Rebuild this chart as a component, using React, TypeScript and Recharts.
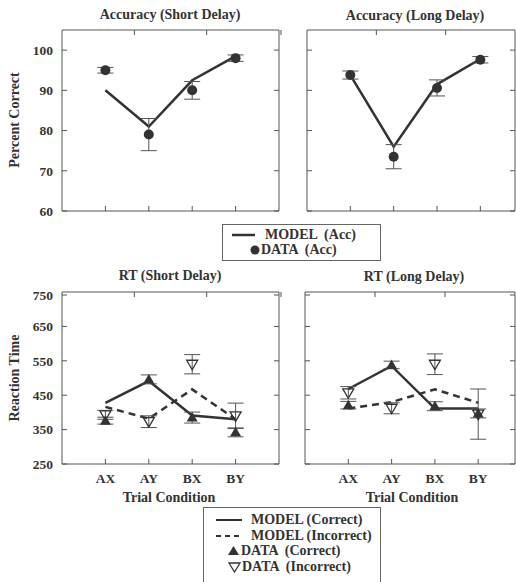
import React from "react";
import { ComposedChart, Line, Scatter, ErrorBar, XAxis, YAxis } from "recharts";

const categories = ["AX", "AY", "BX", "BY"];

// accuracy, percent correct
const accShortModel = [90, 81, 92.5, 98.5];
const accShortData = [95, 79, 90, 98];
const accShortErr = [0.7, 4, 2.2, 0.8];
const accLongModel = [93.8, 76, 91.5, 97.8];
const accLongData = [93.8, 73.5, 90.6, 97.6];
const accLongErr = [1, 3, 2, 0.8];

// reaction time
const rtShortModelCorrect = [428, 491, 391, 380];
const rtShortModelIncorrect = [416, 382, 467, 380];
const rtShortDataCorrect = [376, 496, 385, 342];
const rtShortErrCorrect = [10, 13, 16, 13];
const rtShortDataIncorrect = [393, 373, 540, 390];
const rtShortErrIncorrect = [13, 17, 28, 37];
const rtLongModelCorrect = [468, 535, 411, 411];
const rtLongModelIncorrect = [411, 430, 467, 428];
const rtLongDataCorrect = [421, 538, 418, 397];
const rtLongErrCorrect = [11, 11, 13, 13];
const rtLongDataIncorrect = [457, 412, 540, 395];
const rtLongErrIncorrect = [18, 16, 30, 73];

const accTicks = [60, 65, 70, 75, 80, 85, 90, 95, 100];
const rtTicks = [250, 300, 350, 400, 450, 500, 550, 600, 650, 700, 750];

const FONT = '"Liberation Serif", "Times New Roman", serif';
const INK = "#333";
const AXIS = "#555";

const accRows = (model: number[], data: number[], err: number[]) =>
  categories.map((c, i) => ({ x: i + 1, model: model[i], data: data[i], err: err[i] }));

const rtRows = (mc: number[], mi: number[], dc: number[], ec: number[], di: number[], ei: number[]) =>
  categories.map((c, i) => ({ x: i + 1, mc: mc[i], mi: mi[i], dc: dc[i], ec: ec[i], di: di[i], ei: ei[i] }));

const Dot = (p: any) => <circle cx={p.cx} cy={p.cy} r={5} fill={INK} />;
const UpTri = (p: any) => (
  <path d={`M${p.cx},${p.cy - 5.5} L${p.cx + 5.5},${p.cy + 4} L${p.cx - 5.5},${p.cy + 4} Z`} fill={INK} />
);
const DownTri = (p: any) => (
  <path
    d={`M${p.cx - 5.5},${p.cy - 4} L${p.cx + 5.5},${p.cy - 4} L${p.cx},${p.cy + 5.5} Z`}
    fill="none"
    stroke={INK}
    strokeWidth={1.3}
  />
);

const textProps = { fill: INK, fontSize: 13.5, fontFamily: FONT, fontWeight: "bold" as const };

// ticks drawn inward, labels outside
const leftTick = (step: number, base: number, labels: boolean) => (p: any) => {
  const v = p.payload.value;
  return (
    <g>
      <line x1={p.x + 9} x2={p.x + 14} y1={p.y} y2={p.y} stroke={AXIS} />
      {labels && (v - base) % step === 0 && (
        <text x={p.x} y={p.y} dy="0.35em" textAnchor="end" {...textProps}>
          {v}
        </text>
      )}
    </g>
  );
};
const rightTick = (p: any) => <line x1={p.x - 5} x2={p.x} y1={p.y} y2={p.y} stroke={AXIS} />;
const topTick = (p: any) => <line x1={p.x} x2={p.x} y1={p.y} y2={p.y + 5} stroke={AXIS} />;
const bottomTick = (labels: boolean) => (p: any) => (
  <g>
    <line x1={p.x} x2={p.x} y1={p.y - 8} y2={p.y - 13} stroke={AXIS} />
    {labels && (
      <text x={p.x} y={p.y + 10.5} textAnchor="middle" {...textProps}>
        {categories[p.payload.value - 1]}
      </text>
    )}
  </g>
);

function Panel({ boxL, boxT, boxW, boxH, xMax, yDomain, yTicks, yStep, showX, showY, children, rows }: any) {
  return (
    <div style={{ position: "absolute", left: boxL - 50, top: boxT - 6 }}>
      <ComposedChart width={boxW + 56} height={boxH + 36} data={rows} margin={{ top: 5, right: 5, bottom: 0, left: 0 }}>
        <XAxis
          xAxisId="b"
          dataKey="x"
          type="number"
          domain={[0, xMax]}
          ticks={[1, 2, 3, 4]}
          tickSize={0}
          tickMargin={8}
          tickLine={false}
          height={30}
          stroke={AXIS}
          tick={bottomTick(showX)}
          allowDataOverflow
        />
        <XAxis
          xAxisId="t"
          orientation="top"
          type="number"
          domain={[0, xMax]}
          ticks={[1, 2, 3, 4]}
          tickSize={0}
          tickMargin={0}
          tickLine={false}
          height={1}
          stroke={AXIS}
          tick={topTick}
          allowDataOverflow
        />
        <YAxis
          yAxisId="l"
          type="number"
          domain={yDomain}
          ticks={yTicks}
          tickSize={0}
          tickMargin={9}
          tickLine={false}
          width={50}
          stroke={AXIS}
          tick={leftTick(yStep, yDomain[0], showY)}
          allowDataOverflow
        />
        <YAxis
          yAxisId="r"
          orientation="right"
          type="number"
          domain={yDomain}
          ticks={yTicks}
          tickSize={0}
          tickMargin={0}
          tickLine={false}
          width={1}
          stroke={AXIS}
          tick={rightTick}
          allowDataOverflow
        />
        {children}
      </ComposedChart>
    </div>
  );
}

function Txt({ cx, cy, children, size = 14, rotate = false }: any) {
  return (
    <div
      style={{
        position: "absolute",
        left: cx - 100,
        top: cy - 8,
        width: 200,
        lineHeight: "16px",
        textAlign: "center",
        fontFamily: FONT,
        fontWeight: "bold",
        fontSize: size,
        color: INK,
        whiteSpace: "pre",
        transform: rotate ? "rotate(-90deg)" : undefined,
      }}
    >
      {children}
    </div>
  );
}

function LegText({ x, cy, children }: any) {
  return (
    <div
      style={{
        position: "absolute",
        left: x,
        top: cy - 8,
        lineHeight: "16px",
        fontFamily: FONT,
        fontWeight: "bold",
        fontSize: 14,
        color: INK,
        whiteSpace: "pre",
      }}
    >
      {children}
    </div>
  );
}

const accSeries = () => [
  <Line key="m" xAxisId="b" yAxisId="l" type="linear" dataKey="model" stroke={INK} strokeWidth={2.5} dot={false} isAnimationActive={false} />,
  <Scatter key="d" xAxisId="b" yAxisId="l" dataKey="data" shape={Dot} isAnimationActive={false}>
    <ErrorBar dataKey="err" direction="y" width={8} stroke={AXIS} strokeWidth={1} />
  </Scatter>,
];

const rtSeries = () => [
  <Line key="mc" xAxisId="b" yAxisId="l" type="linear" dataKey="mc" stroke={INK} strokeWidth={2.5} dot={false} isAnimationActive={false} />,
  <Line key="mi" xAxisId="b" yAxisId="l" type="linear" dataKey="mi" stroke={INK} strokeWidth={2.5} strokeDasharray="7 5" dot={false} isAnimationActive={false} />,
  <Scatter key="dc" xAxisId="b" yAxisId="l" dataKey="dc" shape={UpTri} isAnimationActive={false}>
    <ErrorBar dataKey="ec" direction="y" width={8} stroke={AXIS} strokeWidth={1} />
  </Scatter>,
  <Scatter key="di" xAxisId="b" yAxisId="l" dataKey="di" shape={DownTri} isAnimationActive={false}>
    <ErrorBar dataKey="ei" direction="y" width={8} stroke={AXIS} strokeWidth={1} />
  </Scatter>,
];

export default function App() {
  const accShort = accRows(accShortModel, accShortData, accShortErr);
  const accLong = accRows(accLongModel, accLongData, accLongErr);
  const rtShort = rtRows(rtShortModelCorrect, rtShortModelIncorrect, rtShortDataCorrect, rtShortErrCorrect, rtShortDataIncorrect, rtShortErrIncorrect);
  const rtLong = rtRows(rtLongModelCorrect, rtLongModelIncorrect, rtLongDataCorrect, rtLongErrCorrect, rtLongDataIncorrect, rtLongErrIncorrect);

  return (
    <div style={{ position: "absolute", left: 0, top: 0, width: 516, height: 582, overflow: "hidden", background: "#fff" }}>
      <Panel boxL={62} boxT={30} boxW={217} boxH={181} xMax={5} yDomain={[60, 105]} yTicks={accTicks} yStep={10} showY rows={accShort}>
        {accSeries()}
      </Panel>
      <Panel boxL={307} boxT={30} boxW={208} boxH={181} xMax={4.8} yDomain={[60, 105]} yTicks={accTicks} yStep={10} rows={accLong}>
        {accSeries()}
      </Panel>
      <Panel boxL={62} boxT={292} boxW={217} boxH={172} xMax={5} yDomain={[250, 750]} yTicks={rtTicks} yStep={100} showX showY rows={rtShort}>
        {rtSeries()}
      </Panel>
      <Panel boxL={305} boxT={292} boxW={210} boxH={172} xMax={4.85} yDomain={[250, 750]} yTicks={rtTicks} yStep={100} showX rows={rtLong}>
        {rtSeries()}
      </Panel>

      <Txt cx={170} cy={15}>Accuracy (Short Delay)</Txt>
      <Txt cx={415} cy={16}>Accuracy (Long Delay)</Txt>
      <Txt cx={170} cy={276}>RT (Short Delay)</Txt>
      <Txt cx={414} cy={277}>RT (Long Delay)</Txt>
      <Txt cx={15} cy={120} rotate>Percent Correct</Txt>
      <Txt cx={15} cy={378} rotate>Reaction Time</Txt>
      <Txt cx={169} cy={498}>Trial Condition</Txt>
      <Txt cx={412} cy={498}>Trial Condition</Txt>

      {/* accuracy legend */}
      <div style={{ position: "absolute", left: 222, top: 224, width: 157, height: 35, border: "1px solid #666" }} />
      <svg style={{ position: "absolute", left: 0, top: 0 }} width={516} height={582}>
        <line x1={232} y1={235} x2={255} y2={235} stroke={INK} strokeWidth={2.5} />
        <circle cx={255} cy={250} r={4.5} fill={INK} />
        <line x1={216} y1={520} x2={242} y2={520} stroke={INK} strokeWidth={2} />
        <line x1={216} y1={536} x2={242} y2={536} stroke={INK} strokeWidth={2} strokeDasharray="5 4" />
        <path d="M233.5,546 L239,555 L228,555 Z" fill={INK} />
        <path d="M229,563 L240,563 L234.5,572 Z" fill="none" stroke={INK} strokeWidth={1.3} />
      </svg>
      <LegText x={265} cy={235}>{"MODEL  (Acc)"}</LegText>
      <LegText x={261} cy={250}>{"DATA  (Acc)"}</LegText>

      {/* RT legend */}
      <div style={{ position: "absolute", left: 203, top: 507, width: 176, height: 74, border: "1px solid #666" }} />
      <LegText x={251} cy={520}>MODEL (Correct)</LegText>
      <LegText x={251} cy={536}>MODEL (Incorrect)</LegText>
      <LegText x={241} cy={551}>DATA  (Correct)</LegText>
      <LegText x={242} cy={567}>DATA  (Incorrect)</LegText>
    </div>
  );
}
